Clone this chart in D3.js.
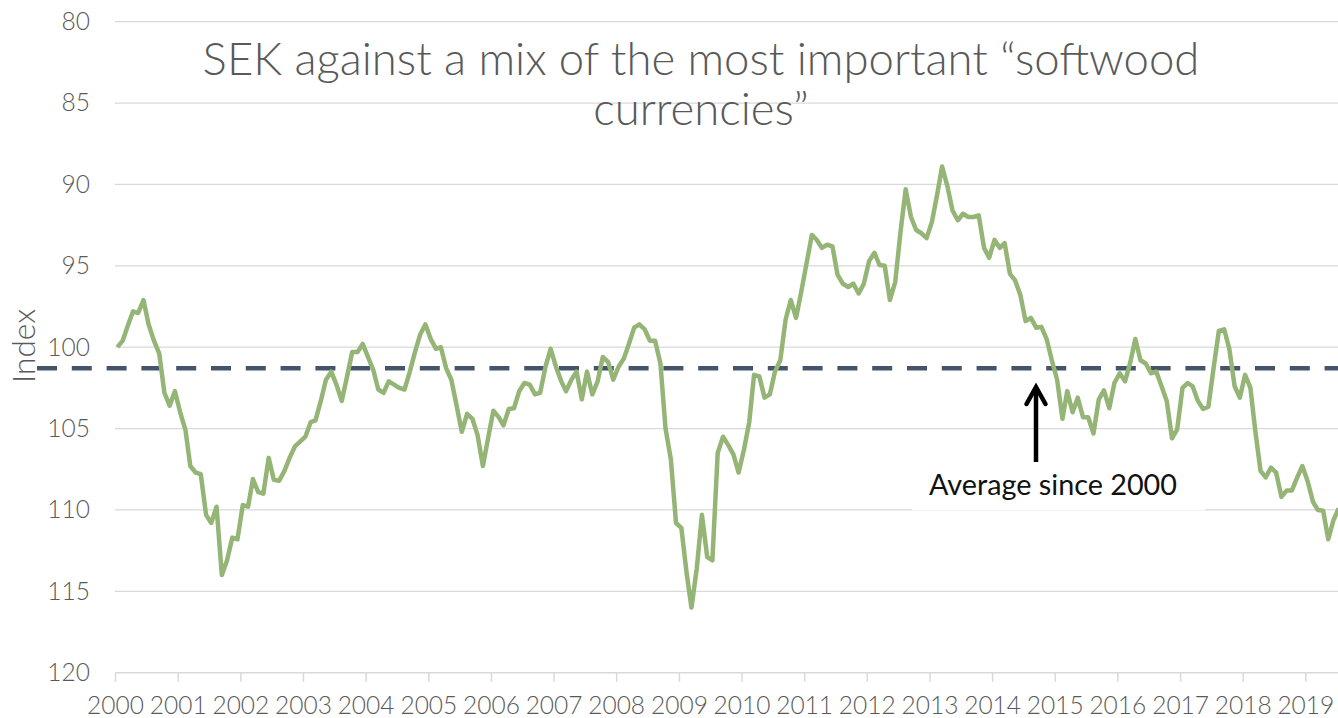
<!DOCTYPE html>
<html>
<head>
  <title>SEK against softwood currencies</title>
  <script src="https://d3js.org/d3.v7.min.js"></script>
  <style>
    body { margin: 0; background: #fff; }
    .chart { font-family: Lato, "Open Sans", sans-serif; font-weight: 300; }
    .tick text { fill: #595959; font-family: Lato, "Open Sans", sans-serif; font-weight: 300; font-size: 24.5px; }
  </style>
</head>
<body>
  <svg class="chart" width="1338" height="718"></svg>

  <script>
    // Monthly index, Jan 2000 .. Jul 2019
    const values = [
      100.0, 99.6, 98.7, 97.8, 97.9, 97.1, 98.6, 99.6, 100.4, 102.8, 103.6, 102.7,
      104.0, 105.1, 107.3, 107.7, 107.8, 110.3, 110.8, 109.8, 114.0, 113.1, 111.7, 111.8,
      109.7, 109.8, 108.1, 108.9, 109.0, 106.8, 108.15, 108.2, 107.6, 106.8, 106.1, 105.8,
      105.5, 104.6, 104.5, 103.3, 102.0, 101.5, 102.3, 103.3, 101.8, 100.3, 100.3, 99.8,
      100.6, 101.4, 102.6, 102.8, 102.1, 102.3, 102.5, 102.6, 101.5, 100.3, 99.2, 98.6,
      99.5, 100.1, 100.0, 101.3, 102.0, 103.6, 105.2, 104.1, 104.4, 105.4, 107.3, 105.6,
      103.9, 104.3, 104.8, 103.8, 103.75, 102.7, 102.2, 102.3, 102.9, 102.8, 101.2, 100.1,
      101.2, 102.1, 102.7, 102.0, 101.5, 103.2, 101.5, 102.9, 102.1, 100.6, 100.9, 102.0,
      101.2, 100.7, 99.8, 98.8, 98.6, 98.9, 99.6, 99.6, 101.0, 105.0, 106.9, 110.8,
      111.1, 113.9, 116.0, 113.6, 110.3, 112.9, 113.1, 106.5, 105.5, 106.0, 106.6, 107.7,
      106.3, 104.6, 101.7, 101.8, 103.1, 102.9, 101.5, 100.8, 98.3, 97.1, 98.2, 96.6,
      94.85, 93.1, 93.4, 93.9, 93.7, 93.8, 95.55, 96.1, 96.3, 96.1, 96.7, 96.1,
      94.7, 94.2, 94.95, 95.0, 97.1, 96.0, 93.0, 90.3, 92.0, 92.8, 93.0, 93.3,
      92.3, 90.6, 88.9, 90.1, 91.6, 92.2, 91.8, 92.0, 92.0, 91.9, 93.9, 94.5,
      93.4, 93.9, 93.6, 95.5, 95.9, 96.8, 98.4, 98.2, 98.8, 98.75, 99.5, 100.8,
      102.0, 104.4, 102.7, 104.0, 103.1, 104.3, 104.3, 105.3, 103.2, 102.65, 103.75, 102.2,
      101.6, 102.1, 101.0, 99.5, 100.8, 101.0, 101.6, 101.5, 102.4, 103.3, 105.6, 105.05,
      102.5, 102.2, 102.4, 103.3, 103.8, 103.65, 101.3, 99.0, 98.9, 100.1, 102.4, 103.1,
      101.7, 102.5, 105.1, 107.6, 108.0, 107.4, 107.7, 109.2, 108.8, 108.8, 108.0, 107.3,
      108.25, 109.5, 110.0, 110.05, 111.8, 110.6, 109.9
    ];
    const average = 101.3;
    const yTicks = [80, 85, 90, 95, 100, 105, 110, 115, 120];
    const xYears = [2000, 2001, 2002, 2003, 2004, 2005, 2006, 2007, 2008, 2009,
                    2010, 2011, 2012, 2013, 2014, 2015, 2016, 2017, 2018, 2019];
    const titleLines = ["SEK against a mix of the most important \u201csoftwood", "currencies\u201d"];
    const yTitle = "Index";
    const note = "Average since 2000";

    const data = values.map((v, i) => ({ date: new Date(2000, i, 15), value: v }));

    const svg = d3.select("svg");
    const plotLeft = 115, plotRight = 1338, plotTop = 21.7, plotBottom = 672.7;

    const x = d3.scaleTime()
      .domain([new Date(2000, 0, 1), new Date(2019, 0, 1)])
      .range([plotLeft, 1305.3]);

    const y = d3.scaleLinear()
      .domain([80, 120])
      .range([plotTop, plotBottom]);

    // gridlines
    svg.append("g")
      .selectAll("line")
      .data(yTicks.slice(0, -1))
      .enter().append("line")
      .attr("x1", plotLeft).attr("x2", plotRight)
      .attr("y1", d => y(d)).attr("y2", d => y(d))
      .attr("stroke", "#d9d9d9").attr("stroke-width", 1.3);

    // y axis labels
    const yAxis = d3.axisLeft(y).tickValues(yTicks).tickSize(0).tickPadding(0);
    svg.append("g")
      .attr("transform", "translate(90,0)")
      .call(yAxis)
      .call(g => g.select(".domain").remove());

    // x axis
    const xAxis = d3.axisBottom(x)
      .tickValues(xYears.map(yr => new Date(yr, 0, 1)))
      .tickFormat(d3.timeFormat("%Y"))
      .tickSize(9).tickPadding(15);
    svg.append("g")
      .attr("transform", `translate(0,${plotBottom})`)
      .call(xAxis)
      .call(g => g.select(".domain").remove())
      .call(g => g.selectAll(".tick line").attr("stroke", "#d9d9d9").attr("stroke-width", 1.5));

    svg.append("line")
      .attr("x1", plotLeft).attr("x2", plotRight)
      .attr("y1", plotBottom).attr("y2", plotBottom)
      .attr("stroke", "#d9d9d9").attr("stroke-width", 1.6);

    // average line
    svg.append("line")
      .attr("x1", 37).attr("x2", plotRight)
      .attr("y1", y(average)).attr("y2", y(average))
      .attr("stroke", "#44546a").attr("stroke-width", 4.5)
      .attr("stroke-dasharray", "20 14.8");

    // series
    const line = d3.line()
      .x(d => x(d.date))
      .y(d => y(d.value));

    svg.append("path")
      .datum(data)
      .attr("fill", "none")
      .attr("stroke", "#94b576")
      .attr("stroke-width", 4.5)
      .attr("stroke-linejoin", "round")
      .attr("d", line);

    function fitWidth(sel, w) {
      const len = sel.node().getComputedTextLength();
      const fs = parseFloat(sel.style("font-size"));
      sel.style("font-size", (fs * w / len) + "px");
      return fs * w / len;
    }

    // title
    const t1 = svg.append("text")
      .attr("x", 701).attr("y", 75)
      .attr("text-anchor", "middle")
      .attr("fill", "#595959")
      .style("font-size", "42px")
      .text(titleLines[0]);
    const tfs = fitWidth(t1, 997);
    svg.append("text")
      .attr("x", 701).attr("y", 125)
      .attr("text-anchor", "middle")
      .attr("fill", "#595959")
      .style("font-size", tfs + "px")
      .text(titleLines[1]);

    // y title
    const yt = svg.append("text")
      .attr("transform", "translate(35,346) rotate(-90)")
      .attr("text-anchor", "middle")
      .attr("fill", "#595959")
      .style("font-size", "24px")
      .text(yTitle);
    fitWidth(yt, 74);

    // annotation
    svg.append("rect")
      .attr("x", 912).attr("y", 466)
      .attr("width", 293).attr("height", 44.3)
      .attr("fill", "#fff");

    const nt = svg.append("text")
      .attr("x", 929).attr("y", 495)
      .attr("fill", "#111")
      .style("font-weight", 400)
      .style("font-size", "24px")
      .text(note);
    fitWidth(nt, 248);

    svg.append("line")
      .attr("x1", 1036).attr("x2", 1036)
      .attr("y1", 462).attr("y2", 388)
      .attr("stroke", "#000").attr("stroke-width", 4.5);
    svg.append("polyline")
      .attr("points", "1026.5,404 1036,387 1045.5,404")
      .attr("fill", "none")
      .attr("stroke", "#000").attr("stroke-width", 4.5)
      .attr("stroke-linecap", "round").attr("stroke-linejoin", "miter");
  </script>
</body>
</html>
